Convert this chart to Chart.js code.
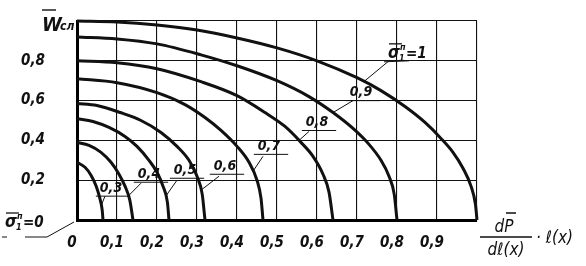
<!DOCTYPE html>
<html>
<head>
<meta charset="utf-8">
<script src="https://cdn.jsdelivr.net/npm/chart.js@4"></script>
<style>
  html, body { margin: 0; background: #fff; }
  #wrap { width: 586px; height: 266px; }
</style>
</head>
<body>
<div id="wrap"><canvas id="chart"></canvas></div>
<script>
// axis ticks
const xTicks = [0, 0.1, 0.2, 0.3, 0.4, 0.5, 0.6, 0.7, 0.8, 0.9, 1.0];
const yTicks = [0, 0.2, 0.4, 0.6, 0.8, 1.0];

// curves W_сл vs dP/dl * l, one per sigma value
const sigmaNames = ["1", "0,9", "0,8", "0,7", "0,6", "0,5", "0,4", "0,3"];
const curve10 = [[0, 1.0], [0.1, 0.995], [0.2, 0.98], [0.3, 0.955], [0.4, 0.915], [0.5, 0.865], [0.6, 0.8], [0.7, 0.715], [0.76, 0.65], [0.82, 0.57], [0.87, 0.49], [0.91, 0.41], [0.94, 0.34], [0.965, 0.26], [0.985, 0.17], [0.996, 0.08], [1.0, 0]];
const curve09 = [[0, 0.92], [0.1, 0.91], [0.2, 0.885], [0.31, 0.83], [0.4, 0.775], [0.5, 0.7], [0.58, 0.62], [0.64, 0.54], [0.69, 0.46], [0.73, 0.38], [0.76, 0.3], [0.78, 0.22], [0.793, 0.13], [0.8, 0]];
const curve08 = [[0, 0.8], [0.1, 0.79], [0.2, 0.76], [0.31, 0.695], [0.4, 0.625], [0.47, 0.54], [0.52, 0.47], [0.56, 0.39], [0.59, 0.32], [0.615, 0.23], [0.63, 0.14], [0.64, 0]];
const curve07 = [[0, 0.71], [0.1, 0.69], [0.2, 0.64], [0.27, 0.58], [0.32, 0.515], [0.36, 0.45], [0.4, 0.37], [0.43, 0.29], [0.45, 0.2], [0.46, 0.11], [0.465, 0]];
const curve06 = [[0, 0.585], [0.05, 0.575], [0.108, 0.54], [0.16, 0.5], [0.21, 0.44], [0.25, 0.37], [0.28, 0.3], [0.3, 0.22], [0.313, 0.13], [0.32, 0]];
const curve05 = [[0, 0.51], [0.04, 0.495], [0.08, 0.465], [0.12, 0.42], [0.15, 0.37], [0.18, 0.3], [0.2, 0.24], [0.215, 0.17], [0.226, 0.09], [0.23, 0]];
const curve04 = [[0, 0.39], [0.03, 0.375], [0.06, 0.34], [0.085, 0.29], [0.105, 0.23], [0.12, 0.17], [0.132, 0.1], [0.14, 0]];
const curve03 = [[0, 0.29], [0.02, 0.265], [0.035, 0.225], [0.048, 0.17], [0.057, 0.11], [0.063, 0.05], [0.065, 0]];
const curves = [curve10, curve09, curve08, curve07, curve06, curve05, curve04, curve03];

// curve labels (text centre) and the leader from each label to its curve
const labelAt = [[0.81, 0.84], [0.71, 0.64], [0.60, 0.49], [0.48, 0.37], [0.37, 0.27], [0.27, 0.25], [0.18, 0.23], [0.085, 0.16]];
const leaderFrom = [[0.78, 0.8], [0.69, 0.6], [0.58, 0.445], [0.465, 0.32], [0.355, 0.22], [0.25, 0.2], [0.16, 0.185], [0.07, 0.12]];
const leaderTo = [[0.72, 0.7], [0.64, 0.54], [0.555, 0.4], [0.44, 0.245], [0.31, 0.15], [0.222, 0.12], [0.128, 0.12], [0.061, 0.075]];

const FONT = "'DejaVu Sans Condensed', 'Liberation Sans Narrow', 'DejaVu Sans', sans-serif";
const INK = "#111";

const toPts = arr => arr.map(([x, y]) => ({ x, y }));

const datasets = curves.map(c => ({
  data: toPts(c),
  showLine: true,
  borderColor: INK,
  borderWidth: 3,
  pointRadius: 0,
  cubicInterpolationMode: "monotone",
  clip: 4
}));

let leaderPts = [];
leaderFrom.forEach((p, i) => {
  leaderPts.push({ x: p[0], y: p[1] }, { x: leaderTo[i][0], y: leaderTo[i][1] }, { x: p[0], y: null });
});
datasets.push({
  data: leaderPts,
  showLine: true,
  spanGaps: false,
  borderColor: INK,
  borderWidth: 1,
  pointRadius: 0
});

function drawSigma(ctx, x, y, rhs) {
  // x,y = left baseline
  ctx.font = "italic bold 17px " + FONT;
  ctx.textAlign = "left";
  ctx.textBaseline = "alphabetic";
  ctx.fillText("σ", x, y);
  const w = ctx.measureText("σ").width;
  ctx.lineWidth = 1.3;
  ctx.beginPath();
  ctx.moveTo(x + 1, y - 14);
  ctx.lineTo(x + w + 2, y - 14);
  ctx.stroke();
  ctx.font = "italic bold 9px " + FONT;
  ctx.fillText("1", x + w - 1, y + 3);
  ctx.fillText("п", x + w, y - 8);
  ctx.font = "italic bold 15px " + FONT;
  ctx.fillText("=" + rhs, x + w + 6, y);
}

const annotate = {
  id: "annotate",
  afterDatasetsDraw(chart) {
    const { ctx, scales: { x, y } } = chart;
    ctx.save();
    ctx.fillStyle = INK;
    ctx.strokeStyle = INK;

    // curve labels with underline
    labelAt.forEach(([lx, ly], i) => {
      const px = x.getPixelForValue(lx);
      const py = y.getPixelForValue(ly);
      if (i === 0) {
        drawSigma(ctx, px - 13, py + 5, "1");
        ctx.lineWidth = 1;
        ctx.beginPath();
        ctx.moveTo(px - 17, py + 9);
        ctx.lineTo(px + 8, py + 8);
        ctx.stroke();
        return;
      }
      ctx.font = "italic bold 14px " + FONT;
      ctx.textAlign = "center";
      ctx.textBaseline = "middle";
      const t = sigmaNames[i];
      ctx.fillText(t, px, py);
      const w = ctx.measureText(t).width;
      ctx.lineWidth = 1;
      ctx.beginPath();
      ctx.moveTo(px - w / 2 - 4, py + 8);
      ctx.lineTo(px + w / 2 + 8, py + 8);
      ctx.stroke();
    });

    // sigma = 0 at the origin
    const ox = x.getPixelForValue(0);
    const oy = y.getPixelForValue(0);
    drawSigma(ctx, ox - 72, oy + 7, "0");
    ctx.lineWidth = 1;
    ctx.beginPath();
    ctx.moveTo(ox - 75, oy + 17);
    ctx.lineTo(ox - 70, oy + 17);
    ctx.moveTo(ox - 52, oy + 17);
    ctx.lineTo(ox - 30, oy + 17);
    ctx.lineTo(ox - 3, oy + 2);
    ctx.stroke();

    // y title: W with bar, subscript сл
    ctx.textAlign = "left";
    ctx.textBaseline = "alphabetic";
    ctx.font = "italic bold 20px " + FONT;
    ctx.fillText("W", ox - 35, y.top + 10);
    ctx.lineWidth = 1.4;
    ctx.beginPath();
    ctx.moveTo(ox - 35, y.top - 11);
    ctx.lineTo(ox - 21, y.top - 11);
    ctx.stroke();
    ctx.font = "italic bold 12px " + FONT;
    ctx.fillText("сл", ox - 17, y.top + 9);

    // x title: dP/dl(x) · l(x)
    const tx = x.right + 3;
    ctx.font = "italic 17px " + FONT;
    ctx.textAlign = "center";
    ctx.fillText("dP", tx + 24, oy + 12);
    ctx.lineWidth = 1.3;
    ctx.beginPath();
    ctx.moveTo(tx + 26, oy - 7);
    ctx.lineTo(tx + 36, oy - 7);
    ctx.moveTo(tx, oy + 17);
    ctx.lineTo(tx + 52, oy + 17);
    ctx.stroke();
    ctx.fillText("dℓ(x)", tx + 26, oy + 35);
    ctx.textAlign = "left";
    ctx.fillText("· ℓ(x)", tx + 56, oy + 23);
    ctx.restore();
  }
};

const tickFont = { family: FONT, size: 15, style: "italic", weight: "bold" };
const fmt = v => v.toFixed(1).replace(".", ",");

new Chart(document.getElementById("chart"), {
  type: "scatter",
  data: { datasets },
  options: {
    responsive: true,
    maintainAspectRatio: false,
    animation: false,
    layout: { padding: { top: 21, right: 109, left: 0, bottom: 0 } },
    plugins: { legend: { display: false }, tooltip: { enabled: false } },
    scales: {
      x: {
        type: "linear",
        min: 0,
        max: 1,
        afterBuildTicks: s => { s.ticks = xTicks.map(v => ({ value: v })); },
        afterFit: s => { s.height = 46; s.paddingLeft = 0; s.paddingRight = 0; },
        grid: { color: INK, lineWidth: 1.1, drawTicks: false },
        border: { display: true, color: "#000", width: 3 },
        ticks: {
          color: INK,
          font: tickFont,
          padding: 14,
          labelOffset: -5,
          autoSkip: false,
          maxRotation: 0,
          callback: v => (v === 0 ? "0" : v >= 1 ? "" : fmt(v))
        }
      },
      y: {
        type: "linear",
        min: 0,
        max: 1,
        afterBuildTicks: s => { s.ticks = yTicks.map(v => ({ value: v })); },
        afterFit: s => { s.width = 77; s.paddingTop = 0; s.paddingBottom = 0; },
        grid: { color: INK, lineWidth: 1.1, drawTicks: false },
        border: { display: true, color: "#000", width: 3 },
        ticks: {
          color: INK,
          font: tickFont,
          padding: 32,
          callback: v => (v <= 0 || v >= 1 ? "" : fmt(v))
        }
      }
    }
  },
  plugins: [annotate]
});
</script>
</body>
</html>
